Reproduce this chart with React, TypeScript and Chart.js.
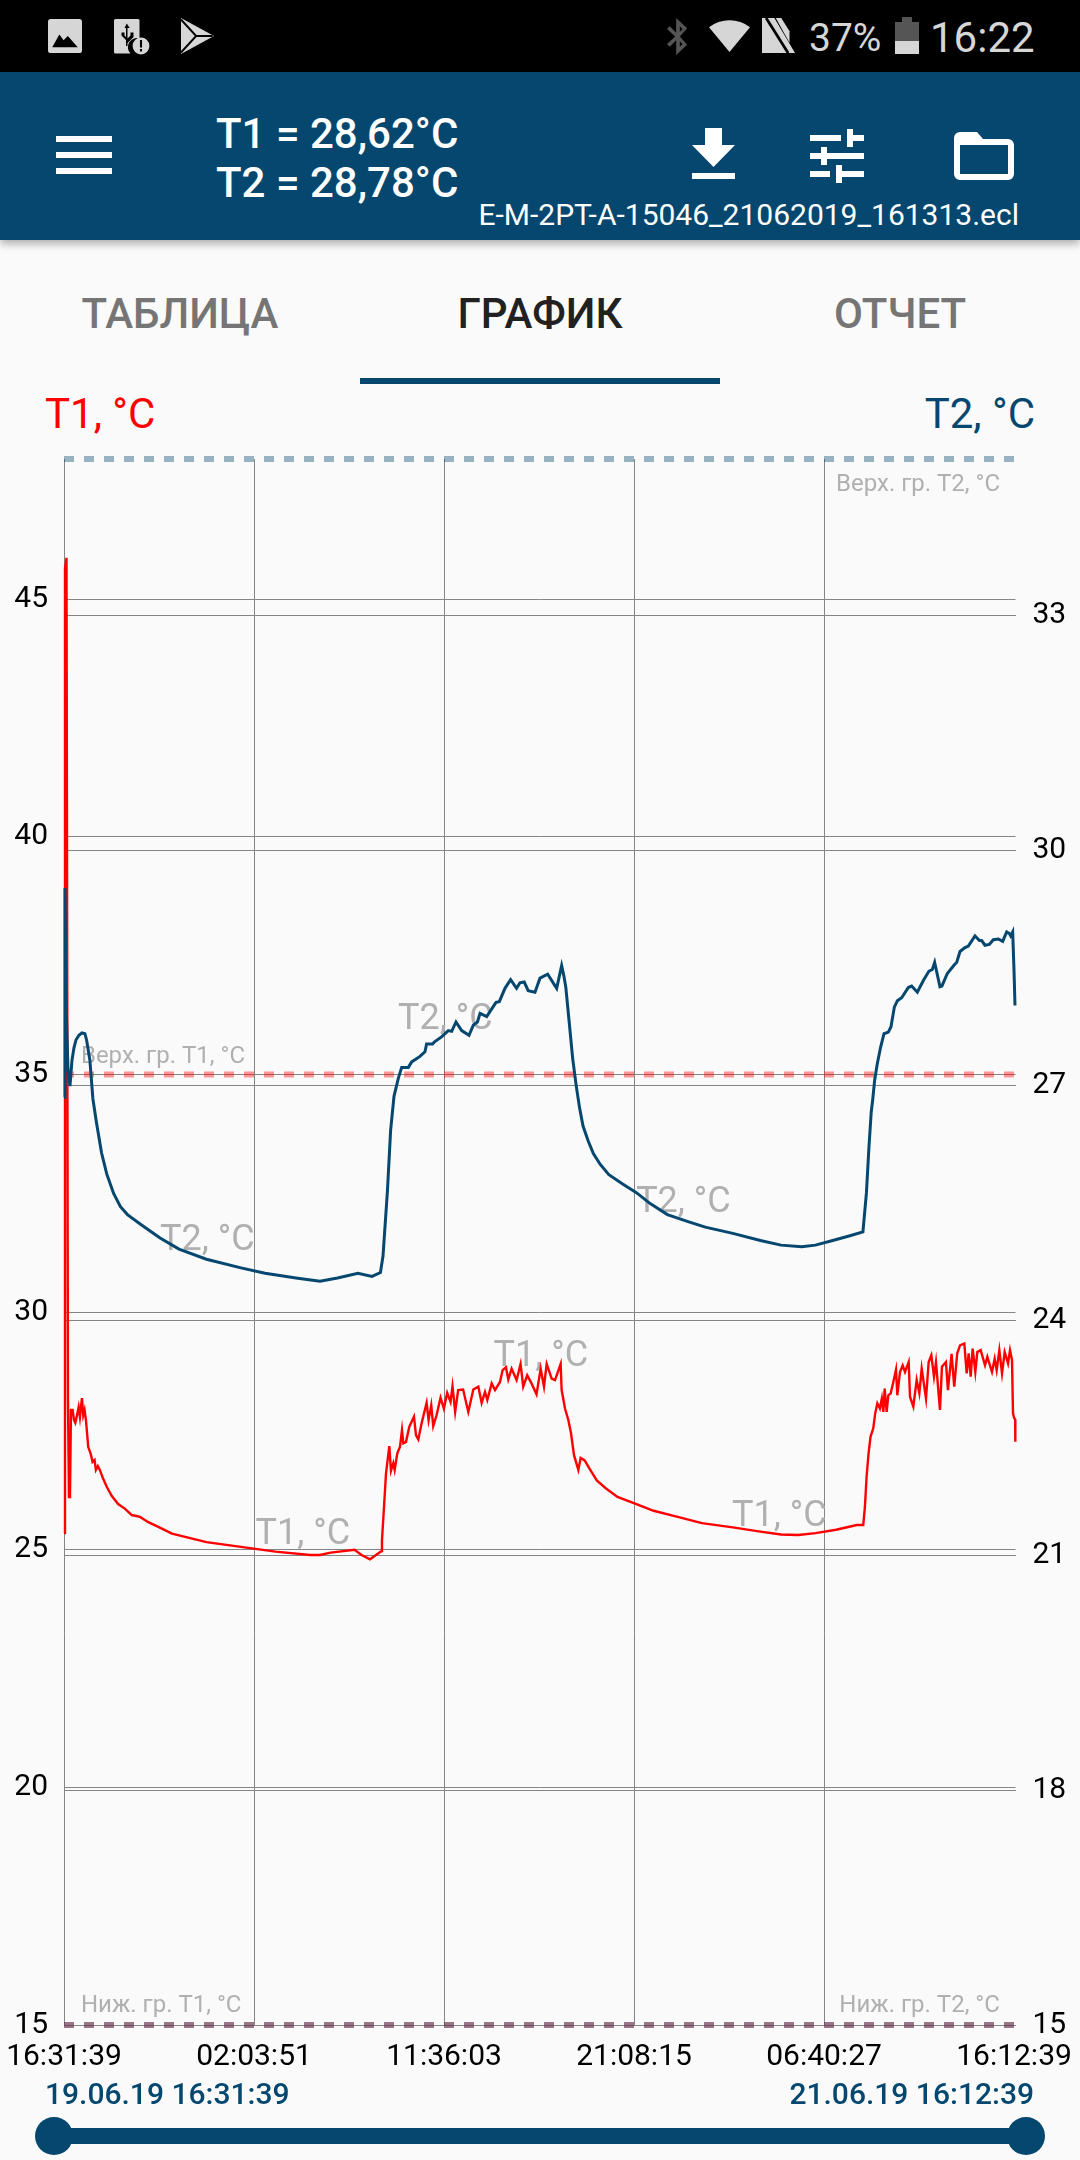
import React, { useEffect, useRef } from "react";
import { Chart, registerables } from "chart.js";

Chart.register(...registerables);

const NAVY = "#05476F";
const FONT = "Roboto, sans-serif";

const xTickMinutes = [0, 572.2, 1144.4, 1716.6, 2288.8, 2861];
const xTickLabels = ["16:31:39", "02:03:51", "11:36:03", "21:08:15", "06:40:27", "16:12:39"];
const leftTicks = [15, 20, 25, 30, 35, 40, 45];
const rightTicks = [15, 18, 21, 24, 27, 30, 33];

const t1Times = [
  0, 3, 7.5, 12, 15, 18, 21, 26, 30, 34, 38, 44, 48, 54, 58, 62, 66, 70, 73, 80, 86, 92, 96, 102, 108, 117, 129, 144, 163, 184, 204, 229, 254, 284, 325, 429, 533, 637, 741, 771, 803, 875, 896, 921.5, 948, 956,
  957.6, 963.7, 969.7, 979.7, 984.7, 991.8, 995.8, 1003.8, 1011.9, 1017.9, 1021.9, 1029.9, 1040, 1054, 1060, 1067, 1077, 1092, 1098, 1106, 1112, 1122, 1134, 1144, 1154, 1164, 1170, 1178, 1187, 1202, 1217.6, 1232.7, 1247.8, 1257.8, 1267.9, 1274.9, 1288, 1298, 1313, 1321, 1331, 1338, 1348, 1363, 1375, 1383, 1395, 1408, 1423, 1435.5, 1445.5, 1453.6, 1468.6, 1478.7, 1495.7, 1498.7, 1508.8, 1518.8, 1526.9, 1535.9, 1549, 1555.9, 1568, 1583.9, 1604.6, 1630.5, 1666.8, 1723.9, 1775.7, 1848.3, 1920.9, 2014.2, 2097, 2159.4, 2211.2, 2263.1, 2325.3, 2387.5, 2407,
  2412, 2417, 2423, 2429, 2437, 2443, 2449.4, 2457, 2463, 2467.5, 2471.5, 2477.5, 2482.5, 2489.6, 2497.6, 2505.6, 2509.6, 2517.7, 2525.7, 2532.7, 2543.8, 2547.8, 2557.8, 2567.9, 2575.9, 2583, 2596, 2604, 2612, 2620, 2626, 2638, 2644, 2656, 2662, 2673, 2681, 2690, 2698.4, 2711.4, 2718.5, 2724.5, 2730.5, 2736.5, 2744.5, 2750.5, 2760.6, 2773.7, 2780.7, 2794.7, 2802.8, 2808.8, 2816.8, 2824.9, 2832.9, 2843, 2849, 2855, 2858, 2861, 2864.5, 2865,
];
const t1Values = [
  25.35, 45.65, 45.87, 28.15, 26.11, 26.11, 27.94, 27.94, 27.73, 27.67, 27.79, 28.0, 27.79, 28.19, 27.83, 27.94, 27.73, 27.41, 27.16, 27.03, 26.85, 26.89, 26.68, 26.76, 26.68, 26.51, 26.32, 26.13, 25.96, 25.86, 25.73, 25.69, 25.58, 25.48, 25.34, 25.16, 25.06, 24.96, 24.89, 24.89, 24.94, 25.0, 24.89, 24.8, 24.93, 24.97,
  25.2, 25.9, 26.6, 27.18, 26.66, 26.82, 26.68, 27.03, 27.17, 27.52, 27.24, 27.27, 27.59, 27.8, 27.41, 27.32, 27.66, 28.09, 27.73, 28.04, 27.6, 27.83, 28.2, 27.97, 28.3, 28.11, 28.44, 27.9, 28.36, 28.37, 27.9, 28.37, 28.43, 28.09, 28.32, 28.15, 28.5, 28.36, 28.53, 28.78, 28.84, 28.58, 28.81, 28.57, 28.91, 28.43, 28.67, 28.5, 28.27, 28.81, 28.43, 28.91, 28.6, 28.57, 28.91, 28.36, 27.97, 27.73, 27.45, 26.99, 26.68, 26.93, 26.88, 26.69, 26.46, 26.3, 26.11, 25.96, 25.82, 25.69, 25.56, 25.47, 25.38, 25.32, 25.31, 25.35, 25.42, 25.52, 25.52,
  25.9, 26.53, 27.03, 27.38, 27.55, 27.87, 28.08, 27.97, 28.18, 27.9, 28.39, 27.9, 28.25, 28.29, 28.53, 28.79, 28.25, 28.74, 28.88, 28.74, 28.95, 28.22, 28.01, 28.57, 28.29, 28.81, 28.18, 28.95, 29.09, 28.64, 28.95, 27.94, 28.85, 28.95, 28.36, 29.12, 28.43, 29.13, 29.3, 29.34, 28.71, 29.13, 28.64, 29.23, 28.74, 29.16, 29.2, 28.88, 29.06, 28.74, 29.02, 28.78, 29.2, 28.71, 29.16, 28.92, 29.2, 28.99, 27.87, 27.78, 27.74, 27.27,
];

const t2Times = [
  0, 3, 6, 12, 18, 24, 30, 36, 45, 54, 63, 68, 78, 87, 97.6, 113, 128.7, 149.4, 170, 191, 232.5, 289.3, 346.4, 429, 533, 605.4, 698.7, 771, 823.7, 885.4, 927.5, 953, 960.7, 974, 983.7, 993.8, 1006.8, 1016.9, 1037, 1047, 1072, 1087, 1092, 1110, 1117, 1137, 1157.4, 1167.5, 1180.5, 1197.6, 1219.7, 1232.7, 1245, 1253, 1273, 1301, 1311, 1328, 1345, 1363, 1373, 1386, 1398, 1418.4, 1433.5, 1456.6, 1483.7, 1498.7, 1505.8, 1511.3, 1521.6, 1532, 1542.4, 1552.8, 1563.1, 1578.7, 1594.2, 1615, 1640.9, 1682.4, 1723.9, 1765.3, 1817.2, 1879.4, 1931.3, 2014.2, 2097.2, 2159.4, 2221.6, 2263, 2315, 2366.8, 2406, 2416.6, 2424, 2431,
  2435.3, 2441.4, 2449.4, 2459.4, 2469.5, 2482.5, 2490.6, 2500.6, 2509.6, 2522.7, 2542.8, 2552.8, 2569.9, 2588, 2605, 2615, 2622, 2638, 2644, 2660.2, 2681.3, 2688.3, 2698.4, 2713.4, 2723.5, 2743.5, 2756.6, 2763.6, 2773.7, 2786.7, 2798.8, 2813.8, 2826.9, 2839, 2847, 2851, 2857, 2861, 2864,
];
const t2Values = [
  26.85, 29.52, 28.09, 27.2, 26.99, 27.32, 27.48, 27.58, 27.64, 27.67, 27.66, 27.58, 27.32, 26.83, 26.53, 26.14, 25.87, 25.62, 25.45, 25.35, 25.22, 25.05, 24.91, 24.78, 24.67, 24.6, 24.54, 24.5, 24.54, 24.6, 24.56, 24.61, 24.82, 25.65, 26.43, 26.86, 27.09, 27.23, 27.23, 27.3, 27.37, 27.43, 27.53, 27.53, 27.56, 27.62, 27.7, 27.69, 27.81, 27.7, 27.64, 27.77, 27.81, 27.92, 27.88, 28.06, 28.07, 28.24, 28.35, 28.24, 28.31, 28.32, 28.21, 28.19, 28.37, 28.42, 28.24, 28.53, 28.39, 28.25, 27.8, 27.34, 27.0, 26.71, 26.48, 26.29, 26.13, 25.99, 25.86, 25.74, 25.63, 25.49, 25.35, 25.26, 25.19, 25.11, 25.02, 24.96, 24.94, 24.96, 25.02, 25.08, 25.13, 25.63, 26.2, 26.66,
  26.81, 27.07, 27.28, 27.49, 27.66, 27.68, 27.75, 28.0, 28.08, 28.12, 28.25, 28.27, 28.19, 28.34, 28.46, 28.48, 28.57, 28.26, 28.27, 28.43, 28.54, 28.57, 28.71, 28.76, 28.78, 28.91, 28.85, 28.85, 28.79, 28.8, 28.86, 28.87, 28.84, 28.96, 28.94, 28.91, 28.96, 28.47, 28.02,
];

const limitSpan = [0, 2861];
const upperT1 = 35;
const lowerT1 = 15;
const upperT2 = 35;
const lowerT2 = 15;

const curveLabelTexts = ["T2, °C", "T2, °C", "T2, °C", "T1, °C", "T1, °C", "T1, °C"];
const curveLabelTimes = [289, 1006, 1723, 577, 1293.5, 2012];
const curveLabelLevels = [31.5, 36.15, 32.3, 25.3, 29.05, 25.68];

const limitLabelTexts = ["Верх. гр. T1, °C", "Верх. гр. T2, °C", "Ниж. гр. T1, °C", "Ниж. гр. T2, °C"];
const limitLabelTimes = [51, 2325, 51, 2335];
const limitLabelLevels = [35.36, 47.4, 15.4, 15.4];

const series = (xs: number[], ys: number[]) => xs.map((x, i) => ({ x, y: ys[i] }));
const limit = (v: number) => limitSpan.map((x) => ({ x, y: v }));

const labelPlugin = {
  id: "curveLabels",
  beforeDatasetsDraw(chart: any) {
    const { ctx, scales } = chart;
    ctx.save();
    ctx.fillStyle = "#b0b0b0";
    ctx.textAlign = "left";
    ctx.textBaseline = "middle";
    ctx.font = `36px ${FONT}`;
    curveLabelTexts.forEach((t, i) => {
      ctx.fillText(t, scales.x.getPixelForValue(curveLabelTimes[i]), scales.y.getPixelForValue(curveLabelLevels[i]));
    });
    ctx.font = `24px ${FONT}`;
    limitLabelTexts.forEach((t, i) => {
      ctx.fillText(t, scales.x.getPixelForValue(limitLabelTimes[i]), scales.y.getPixelForValue(limitLabelLevels[i]));
    });
    ctx.restore();
  },
};

function Txt(p: { x?: number; r?: number; cx?: number; base: number; size: number; color: string; weight?: number; children: any }) {
  const style: any = {
    position: "absolute",
    top: p.base - 0.841 * p.size,
    fontSize: p.size,
    lineHeight: `${p.size}px`,
    color: p.color,
    fontWeight: p.weight || 400,
    fontFamily: FONT,
    whiteSpace: "nowrap",
  };
  if (p.x !== undefined) style.left = p.x;
  if (p.r !== undefined) style.right = 1080 - p.r;
  if (p.cx !== undefined) {
    style.left = p.cx;
    style.transform = "translateX(-50%)";
  }
  return <div style={style}>{p.children}</div>;
}

function Icon(p: { x: number; y: number; w: number; h: number; vb: string; children: any }) {
  return (
    <svg style={{ position: "absolute", left: p.x, top: p.y }} width={p.w} height={p.h} viewBox={p.vb} preserveAspectRatio="none">
      {p.children}
    </svg>
  );
}

export default function App() {
  const ref = useRef<HTMLCanvasElement>(null);
  useEffect(() => {
    const gridGrey = "#858585";
    const chart = new Chart(ref.current as HTMLCanvasElement, {
      type: "line",
      plugins: [labelPlugin],
      data: {
        datasets: [
          { label: "T2, °C", data: series(t2Times, t2Values), yAxisID: "y2", borderColor: NAVY, borderWidth: 3, pointRadius: 0, tension: 0, clip: false, order: 0 },
          { label: "T1, °C", data: series(t1Times, t1Values), yAxisID: "y", borderColor: "#ff0000", borderWidth: 2.4, pointRadius: 0, tension: 0, clip: false, order: 1 },
          { label: "Ниж. гр. T2, °C", data: limit(lowerT2), yAxisID: "y2", borderColor: "rgba(5,71,111,0.4)", borderWidth: 6, borderDash: [10, 10], pointRadius: 0, clip: false, order: 2 },
          { label: "Ниж. гр. T1, °C", data: limit(lowerT1), yAxisID: "y", borderColor: "rgba(255,0,0,0.4)", borderWidth: 6, borderDash: [10, 10], pointRadius: 0, clip: false, order: 3 },
          { label: "Верх. гр. T2, °C", data: limit(upperT2), yAxisID: "y2", borderColor: "rgba(5,71,111,0.4)", borderWidth: 6, borderDash: [10, 10], pointRadius: 0, clip: false, order: 4 },
          { label: "Верх. гр. T1, °C", data: limit(upperT1), yAxisID: "y", borderColor: "rgba(255,0,0,0.4)", borderWidth: 6, borderDash: [10, 10], pointRadius: 0, clip: false, order: 5 },
        ],
      },
      options: {
        animation: false,
        responsive: false,
        layout: { padding: { top: 19, left: 0, right: 0, bottom: 0 } },
        plugins: { legend: { display: false }, tooltip: { enabled: false } },
        scales: {
          x: {
            type: "linear",
            min: 0,
            max: 2865.5,
            afterBuildTicks: (s: any) => { s.ticks = xTickMinutes.map((value) => ({ value })); },
            afterFit: (s: any) => { s.height = 75; s.paddingLeft = 0; s.paddingRight = 0; },
            border: { display: false },
            grid: { color: (c: any) => (c.index === 5 ? "rgba(0,0,0,0)" : gridGrey), lineWidth: 1, drawTicks: false },
            ticks: {
              autoSkip: false,
              maxRotation: 0,
              minRotation: 0,
              padding: 14,
              color: "#000",
              font: { family: "Roboto", size: 30 },
              callback: (_v: any, i: number) => xTickLabels[i],
            },
          },
          y: {
            position: "left",
            min: 15,
            max: 47.95,
            afterBuildTicks: (s: any) => { s.ticks = leftTicks.map((value) => ({ value })); },
            afterFit: (s: any) => { s.width = 64; s.paddingTop = 0; s.paddingBottom = 0; },
            border: { display: false },
            grid: { color: gridGrey, lineWidth: 1, drawTicks: false },
            ticks: { padding: 16, color: "#000", font: { family: "Roboto", size: 30 } },
          },
          y2: {
            position: "right",
            min: 15,
            max: 35,
            afterBuildTicks: (s: any) => { s.ticks = rightTicks.map((value) => ({ value })); },
            afterFit: (s: any) => { s.width = 64.5; s.paddingTop = 0; s.paddingBottom = 0; },
            border: { display: false },
            grid: { color: gridGrey, lineWidth: 1, drawTicks: false },
            ticks: { padding: 17, color: "#000", font: { family: "Roboto", size: 30 } },
          },
        },
      },
    } as any);
    return () => chart.destroy();
  }, []);

  const dim = "#d6d6d6";
  return (
    <div style={{ position: "absolute", left: 0, top: 0, width: 1080, height: 2160, background: "#FAFAFA", overflow: "hidden" }}>
      <canvas ref={ref} width={1080} height={1660} style={{ position: "absolute", left: 0, top: 440, width: 1080, height: 1660 }} />

      <div style={{ position: "absolute", left: 0, top: 0, width: 1080, height: 72, background: "#000" }} />
      <Icon x={48} y={19} w={34} h={34} vb="0 0 24 24">
        <path d="M2 0h20a2 2 0 0 1 2 2v20a2 2 0 0 1-2 2H2a2 2 0 0 1-2-2V2a2 2 0 0 1 2-2z" fill={dim} />
        <path d="M3 20l5-9 3 4 3-3 7 8z" fill="#000" />
      </Icon>
      <Icon x={114} y={19} w={36} h={36} vb="0 0 24 24">
        <path d="M1 0h15a1 1 0 0 1 1 1v12a6 6 0 0 0-6 10H1a1 1 0 0 1-1-1V1a1 1 0 0 1 1-1z" fill={dim} />
        <path d="M8.5 3l2 3H9v7l2-2V9h2v3l-4 4v2H8v-4L5 11V9h2v2l1 1V6H7z" fill="#000" />
        <circle cx="18" cy="18" r="5.6" fill={dim} />
        <path d="M17.3 14h1.4v5h-1.4zM17.3 20h1.4v1.6h-1.4z" fill="#000" />
      </Icon>
      <Icon x={181} y={18} w={33} h={36} vb="0 0 24 24">
        <path d="M0 0l24 12L0 24z" fill={dim} />
        <path d="M0 1l11 11L0 23M11 12l12 0" stroke="#000" strokeWidth="1.4" fill="none" />
      </Icon>
      <Icon x={667} y={18} w={22} h={37} vb="0 0 24 40">
        <path d="M10 0l12 11-8 9 8 9-12 11V24l-7 7-3-3 9-8-9-8 3-3 7 7zM14 9v6l3-3zM14 25v6l3-3z" fill="#555" />
      </Icon>
      <Icon x={709} y={19} w={41} h={33} vb="0 0 24 20">
        <path d="M12 20L0 5a19 19 0 0 1 24 0z" fill={dim} />
      </Icon>
      <Icon x={762} y={18} w={33} h={35} vb="0 0 24 24">
        <path d="M0 24V0h9l15 24z" fill={dim} />
        <path d="M10 0h4l6 9v8z" fill={dim} />
        <path d="M3 0l16 24" stroke="#000" strokeWidth="2" />
      </Icon>
      <Txt x={809} base={52} size={39} color={dim}>37%</Txt>
      <div style={{ position: "absolute", left: 895, top: 22, width: 24, height: 32, background: "#555" }} />
      <div style={{ position: "absolute", left: 902, top: 17, width: 10, height: 5, background: "#555" }} />
      <div style={{ position: "absolute", left: 895, top: 41, width: 24, height: 13, background: dim }} />
      <Txt x={930} base={52} size={42} color={dim}>16:22</Txt>

      <div style={{ position: "absolute", left: 0, top: 72, width: 1080, height: 168, background: NAVY, boxShadow: "0 4px 8px rgba(0,0,0,0.3)" }} />
      {[136, 152, 168].map((y) => (
        <div key={y} style={{ position: "absolute", left: 56, top: y, width: 56, height: 6, background: "#fff" }} />
      ))}
      <Txt x={216} base={148} size={42} color="#fff" weight={500}>T1 = 28,62°C</Txt>
      <Txt x={216} base={197} size={42} color="#fff" weight={500}>T2 = 28,78°C</Txt>
      <Txt r={1019} base={225} size={30} color="#fff">E-M-2PT-A-15046_21062019_161313.ecl</Txt>
      <Icon x={692} y={128} w={43} h={51} vb="0 0 43 51">
        <path d="M13 0h17v17h13L21.5 39 0 17h13zM0 45h43v6H0z" fill="#fff" />
      </Icon>
      <Icon x={810} y={129} w={54} h={54} vb="0 0 54 54">
        <path d="M37 0h6v6h11v6H43v6h-6zM0 6h31v6H0zM11 18h6v6h37v6H17v6h-6v-6H0v-6h11zM0 42h20v6H0zM26 36h6v6h22v6H32v6h-6z" fill="#fff" />
      </Icon>
      <Icon x={954} y={132} w={60} h={48} vb="0 0 60 48">
        <path d="M6 0h17l6 7h25a6 6 0 0 1 6 6v29a6 6 0 0 1-6 6H6a6 6 0 0 1-6-6V6a6 6 0 0 1 6-6zM6 13v29h48V13z" fill="#fff" fillRule="evenodd" />
      </Icon>

      <Txt cx={180} base={328} size={42} color="#757575" weight={500}>ТАБЛИЦА</Txt>
      <Txt cx={540} base={328} size={42} color="#212121" weight={500}>ГРАФИК</Txt>
      <Txt cx={900} base={328} size={42} color="#757575" weight={500}>ОТЧЕТ</Txt>
      <div style={{ position: "absolute", left: 360, top: 378, width: 360, height: 6, background: NAVY }} />

      <Txt x={45} base={428} size={42} color="#ff0000">T1, °C</Txt>
      <Txt r={1035} base={428} size={42} color={NAVY}>T2, °C</Txt>

      <Txt x={45} base={2104} size={30} color={NAVY} weight={500}>19.06.19 16:31:39</Txt>
      <Txt r={1034} base={2104} size={30} color={NAVY} weight={500}>21.06.19 16:12:39</Txt>
      <div style={{ position: "absolute", left: 54, top: 2128, width: 972, height: 16, background: NAVY }} />
      <div style={{ position: "absolute", left: 35, top: 2117, width: 38, height: 38, borderRadius: 19, background: NAVY }} />
      <div style={{ position: "absolute", left: 1007, top: 2117, width: 38, height: 38, borderRadius: 19, background: NAVY }} />
    </div>
  );
}
